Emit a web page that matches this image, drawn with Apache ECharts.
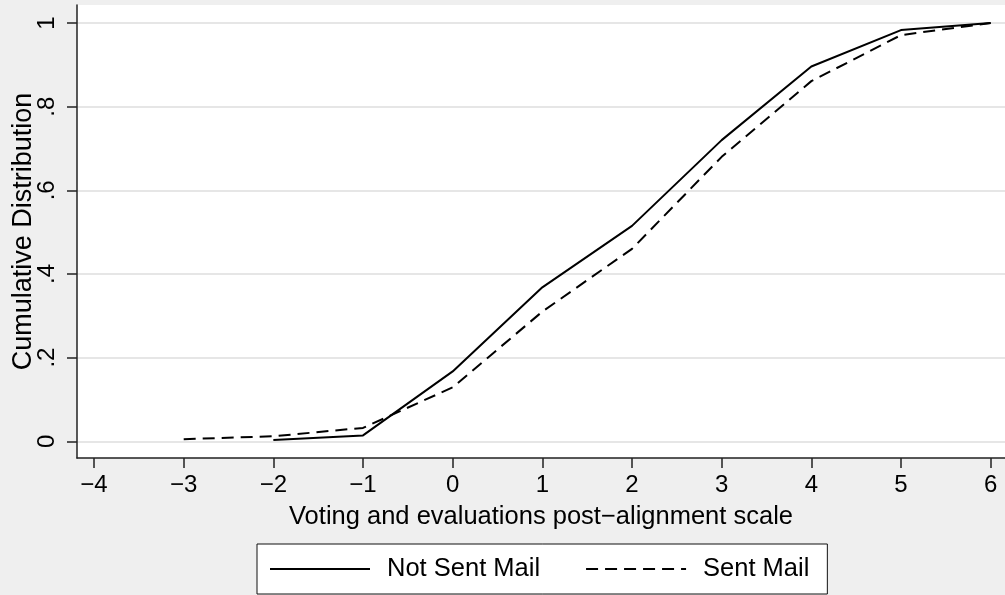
<!DOCTYPE html>
<html>
<head>
<meta charset="utf-8">
<script src="https://cdn.jsdelivr.net/npm/echarts@6/dist/echarts.min.js"></script>
<style>
  html, body { margin: 0; padding: 0; background: #efefef; }
  #chart { width: 1005px; height: 595px; }
</style>
</head>
<body>
<div id="chart"></div>
<script>
// scale points and cumulative shares
const notSentX = [-2, -1, 0, 1, 2, 3, 4, 5, 6];
const notSentY = [0.003, 0.014, 0.167, 0.368, 0.515, 0.72, 0.896, 0.983, 1];
const sentX = [-3, -2, -1, 0, 1, 2, 3, 4, 5, 6];
const sentY = [0.005, 0.012, 0.032, 0.129, 0.31, 0.46, 0.68, 0.861, 0.971, 1];
const xTicks = [-4, -3, -2, -1, 0, 1, 2, 3, 4, 5, 6];
const yTicks = [0, 0.2, 0.4, 0.6, 0.8, 1];

const font = 'Liberation Sans, Arial, sans-serif';
const ink = '#000';
const axisInk = '#222';

function pairs(xs, ys) {
  return xs.map((x, i) => [x, ys[i]]);
}

function yLabel(v) {
  if (v === 0) return '0';
  if (v === 1) return '1';
  return String(Math.round(v * 10) / 10).replace(/^0/, '');
}

const chart = echarts.init(document.getElementById('chart'), null, { renderer: 'canvas' });

chart.setOption({
  backgroundColor: '#efefef',
  animation: false,
  grid: {
    left: 77, right: 0, top: 5, bottom: 137,
    outerBoundsMode: 'none', containLabel: false,
    show: true, backgroundColor: '#fff', borderWidth: 0
  },
  xAxis: {
    type: 'value',
    min: -4.19,
    max: 6.16,
    name: 'Voting and evaluations post\u2212alignment scale',
    nameLocation: 'middle',
    nameGap: 46,
    nameMoveOverlap: false,
    nameTextStyle: { color: ink, fontSize: 25.5, fontFamily: font },
    axisLine: { onZero: false, lineStyle: { color: axisInk, width: 1.5 } },
    axisTick: { customValues: xTicks, length: 10, lineStyle: { color: axisInk, width: 1.5 } },
    axisLabel: {
      customValues: xTicks,
      margin: 15,
      color: ink,
      fontSize: 24,
      fontFamily: font,
      formatter: (v) => v < 0 ? '\u2212' + Math.abs(v) : String(v)
    },
    splitLine: { show: false }
  },
  yAxis: {
    type: 'value',
    min: -0.04,
    max: 1.043,
    name: 'Cumulative Distribution',
    nameLocation: 'middle',
    nameGap: 40,
    nameRotate: 90,
    nameMoveOverlap: false,
    nameTextStyle: { color: ink, fontSize: 27, fontFamily: font },
    axisLine: { onZero: false, lineStyle: { color: axisInk, width: 1.5 } },
    axisTick: { customValues: yTicks, length: 10, lineStyle: { color: axisInk, width: 1.5 } },
    axisLabel: {
      customValues: yTicks,
      rotate: 90,
      margin: 18,
      color: ink,
      fontSize: 24,
      fontFamily: font,
      formatter: yLabel
    },
    splitLine: { show: true, lineStyle: { color: '#e6e6e6', width: 2 } }
  },
  legend: {
    left: 257,
    top: 544,
    padding: [12, 18, 12, 12],
    backgroundColor: '#fff',
    borderColor: '#111',
    borderWidth: 1,
    borderRadius: 0,
    itemWidth: 100,
    itemHeight: 24,
    itemGap: 45,
    itemStyle: { color: 'rgba(0,0,0,0)', borderWidth: 0 },
    textStyle: { color: ink, fontSize: 25.5, fontFamily: font, padding: [0, 0, 0, 12] },
    data: ['Not Sent Mail', 'Sent Mail']
  },
  series: [
    {
      name: 'Not Sent Mail',
      type: 'line',
      symbol: 'none',
      data: pairs(notSentX, notSentY),
      lineStyle: { color: '#000', width: 2, type: 'solid' }
    },
    {
      name: 'Sent Mail',
      type: 'line',
      symbol: 'none',
      data: pairs(sentX, sentY),
      lineStyle: { color: '#000', width: 2, type: [12, 7] }
    }
  ]
});
</script>
</body>
</html>
